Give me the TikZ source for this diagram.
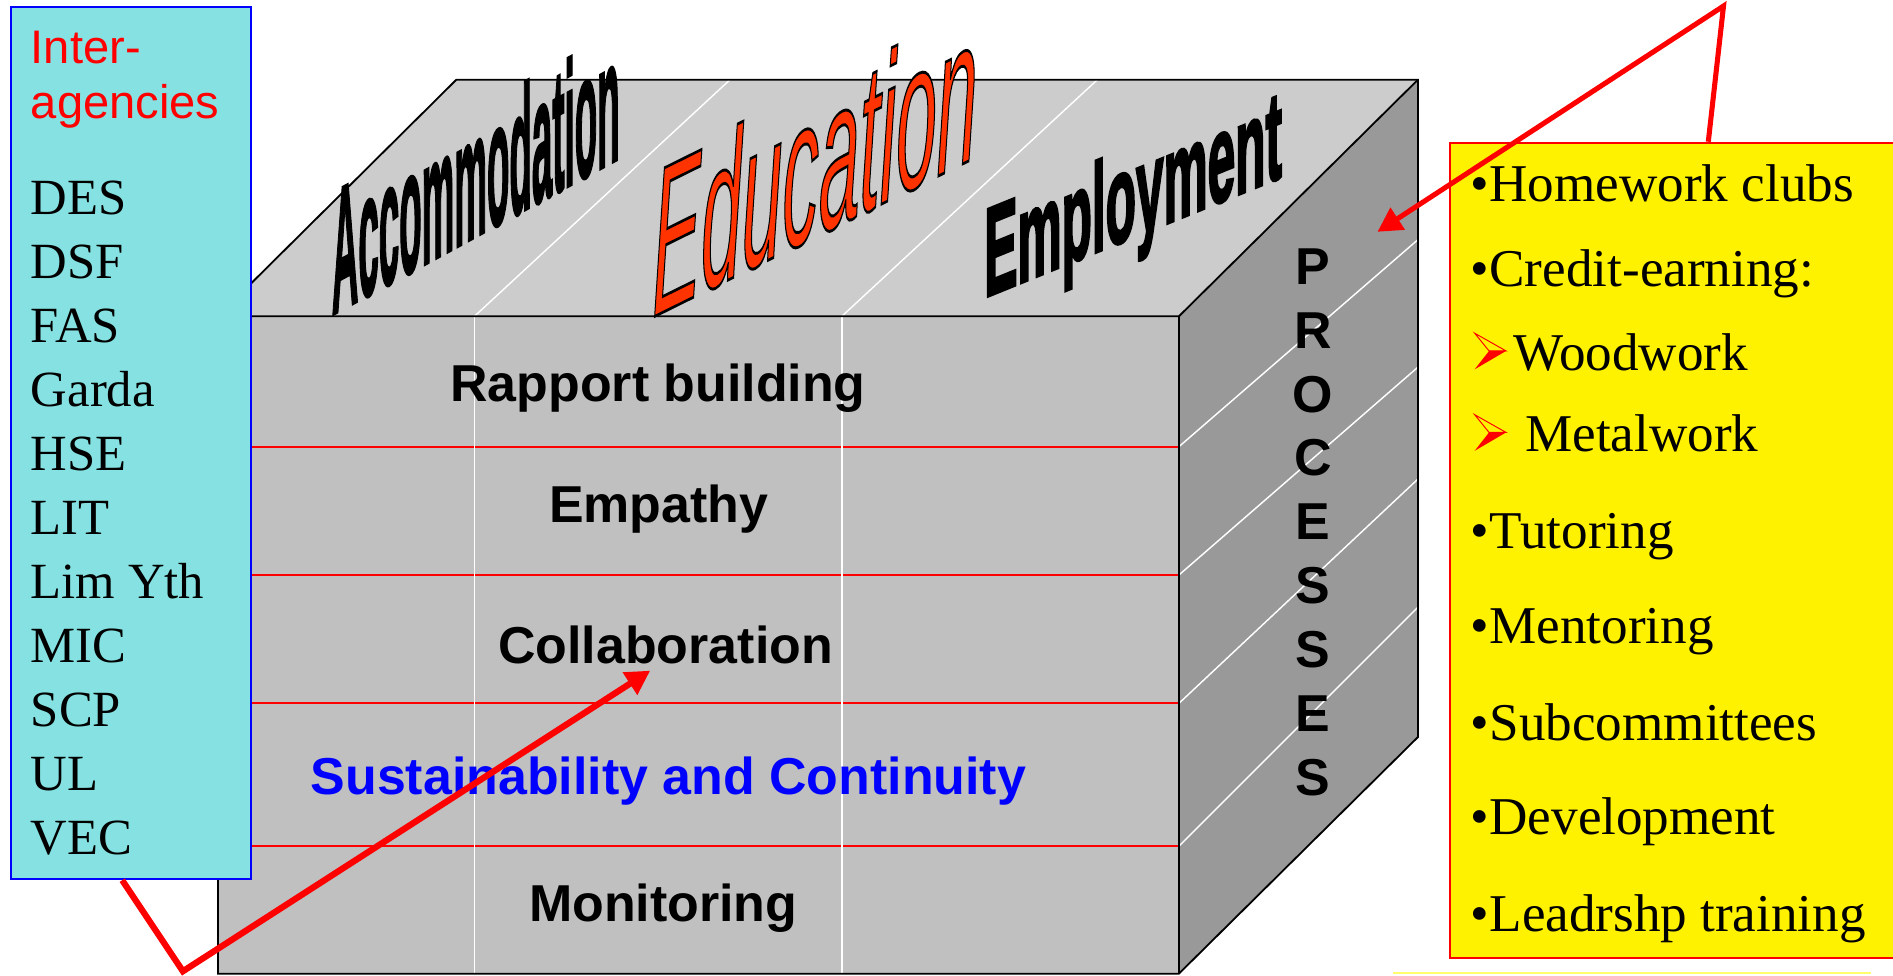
\documentclass[tikz,border=0pt]{standalone}
\usepackage{fontspec}
\setmainfont{Liberation Serif}
\newfontfamily\arial{Liberation Sans}
\newfontfamily\accfont{Liberation Sans Bold}[FakeBold=2.2]
\newfontfamily\edufont{Liberation Sans Italic}[FakeBold=1.4]
\newfontfamily\empfont{Liberation Sans Bold}[FakeBold=3]
\usetikzlibrary{arrows.meta}
\definecolor{cyanbox}{RGB}{134,226,226}
\definecolor{topgray}{RGB}{204,204,204}
\definecolor{frontgray}{RGB}{192,192,192}
\definecolor{sidegray}{RGB}{153,153,153}
\definecolor{eduorange}{RGB}{255,51,0}
\definecolor{paleyellow}{RGB}{255,255,110}
\tikzset{
  cubeedge/.style={draw=black,line width=0.75pt},
  rowline/.style={draw=red,line width=0.8pt},
  wline/.style={draw=white,line width=0.6pt},
  redarrow/.style={draw=red,-{Triangle[length=10pt,width=10.5pt]}},
  facelabel/.style={font=\arial\bfseries\fontsize{21.5pt}{24pt}\selectfont,inner sep=0pt,anchor=base},
  agency/.style={font=\fontsize{21pt}{24pt}\selectfont,inner sep=0pt,anchor=base west},
  item/.style={font=\fontsize{22pt}{26pt}\selectfont,inner sep=0pt,anchor=base west},
  letter/.style={font=\arial\bfseries\fontsize{21.5pt}{24pt}\selectfont,inner sep=0pt,anchor=base},
  wordart/.style={inner sep=0pt,anchor=base west},
}
\begin{document}
\begin{tikzpicture}[x=0.5pt,y=-0.5pt]
\useasboundingbox (0,0) rectangle (1568,808);

% ---- cube faces
\path[fill=frontgray] (180.5,262) rectangle (976.5,806.5);
\path[fill=topgray] (180.5,262) -- (976.5,262) -- (1174.5,66) -- (378,66) -- cycle;
\path[fill=sidegray] (976.5,262) -- (1174.5,66) -- (1174.5,610.5) -- (976.5,806.5) -- cycle;
\foreach \y in {370,476.3,582.6,701} \draw[rowline] (180.5,\y) -- (976.5,\y);
\draw[wline] (393,262) -- (393,806.5);
\draw[wline] (697.3,262) -- (697.3,806.5);
\draw[wline] (393,262) -- (604.7,66);
\draw[wline] (697.3,262) -- (909,66);
\draw[wline] (976.5,370) -- (1174.5,198.5);
\draw[wline] (976.5,476.3) -- (1174.5,304.1);
\draw[wline] (976.5,582.6) -- (1174.5,396.8);
\draw[wline] (976.5,701) -- (1174.5,502.9);
\draw[cubeedge] (180.5,262) -- (378,66) -- (1174.5,66) -- (1174.5,610.5) -- (976.5,806.5) -- (180.5,806.5) -- cycle;
\draw[cubeedge] (180.5,262) -- (976.5,262) -- (1174.5,66);
\draw[cubeedge] (976.5,262) -- (976.5,806.5);

% ---- top face word art
\node[wordart,yslant=0.545] (accom) at (274.5,261)
  {\scalebox{0.2084}[1]{\accfont\fontsize{73pt}{80pt}\selectfont Accommodation}};
\node[wordart,yslant=0.495] (educ) at (540,263.2)
  {\scalebox{0.35}[1]{\edufont\fontsize{86.5pt}{90pt}\selectfont\color{eduorange}\special{pdf:literal direct 0 0 0 RG}Education}};
\node[wordart,yslant=0.406] (employ) at (815,246.5)
  {\scalebox{0.395}[1]{\empfont\fontsize{52pt}{56pt}\selectfont Employment}};

% ---- front face labels
\node[facelabel] (rapport) at (545,332.7) {Rapport building};
\node[facelabel] (empathy) at (545.6,432.9) {Empathy};
\node[facelabel] (collab) at (551.3,549.4) {Collaboration};
\node[facelabel,text=blue] (sustain) at (553.6,658) {Sustainability and Continuity};
\node[facelabel] (monitor) at (549.4,763.4) {Monitoring};

% ---- PROCESSES
\foreach \l [count=\i] in {P,R,O,C,E,S,S,E,S}
  \node[letter] (pr\i) at (1087.6,{235.5+52.9*(\i-1)}) {\l};

% ---- agencies box
\node[draw=blue,line width=0.8pt,fill=cyanbox,minimum width=99.45pt,minimum height=361.25pt,inner sep=0pt,anchor=north west] (agencies) at (8.1,5) {};
\node[agency,text=red,font=\arial\fontsize{19.5pt}{22pt}\selectfont] (inter1) at (25.2,52.4) {Inter-};
\node[agency,text=red,font=\arial\fontsize{19.5pt}{22pt}\selectfont] (inter2) at (25.2,98) {agencies};
\foreach \t [count=\i] in {DES,DSF,FAS,Garda,HSE,LIT,Lim Yth,MIC,SCP,UL,VEC}
  \node[agency] (ag\i) at (25.2,{178+53*(\i-1)}) {\t};

% ---- activities box
\node[draw=red,line width=0.8pt,fill=yellow,minimum width=190pt,minimum height=337.5pt,inner sep=0pt,anchor=north west] (extras) at (1200.5,117.4) {};
\node[item] (it1) at (1218,167) {•Homework clubs};
\node[item] (it2) at (1218,237.5) {•Credit-earning:};
\path[draw=red,line width=0.4pt,line join=miter] (1221.5,276) -- (1247.5,290.7) -- (1233.4,290.7) -- cycle;
\path[fill=red] (1233.4,290.7) -- (1247.5,290.7) -- (1221.5,305.9) -- cycle;
\node[item] (it3) at (1253,306.5) {Woodwork};
\path[draw=red,line width=0.4pt,line join=miter] (1221.5,343.5) -- (1247.5,358.2) -- (1233.4,358.2) -- cycle;
\path[fill=red] (1233.4,358.2) -- (1247.5,358.2) -- (1221.5,373.4) -- cycle;
\node[item] (it4) at (1263,374) {Metalwork};
\node[item] (it5) at (1218,454.2) {•Tutoring};
\node[item] (it6) at (1218,532.9) {•Mentoring};
\node[item] (it7) at (1218,613) {•Subcommittees};
\node[item] (it8) at (1218,691.6) {•Development};
\node[item] (it9) at (1218,771.7) {•Leadrshp training};
\draw[paleyellow,line width=0.9pt] (1153.6,806) -- (1550,806);

% ---- connectors
\coordinate (v1) at (151.5,804.5);
\coordinate (tip1) at (538.6,555.5);
\draw[redarrow,line width=2.6pt] ([xshift=46.55pt]agencies.south west) -- (v1) -- (tip1);
\coordinate (v2) at (1427.6,5);
\coordinate (tip2) at (1141,192);
\draw[redarrow,line width=2.1pt] ([xshift=107.25pt]extras.north west) -- (v2) -- (tip2);
\end{tikzpicture}
\end{document}
